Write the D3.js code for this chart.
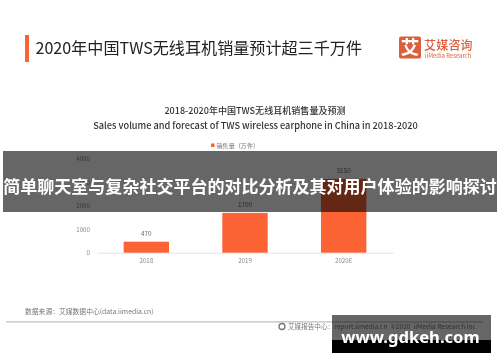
<!DOCTYPE html>
<html><head><meta charset="utf-8">
<script src="https://cdn.jsdelivr.net/npm/d3@7/dist/d3.min.js"></script>
<style>html,body{margin:0;padding:0;background:#fff;overflow:hidden}svg{display:block}</style>
</head><body><svg id="c" width="500" height="362"></svg>
<script>
const categories = ["2018","2019","2020E"];
const sales = [470,1700,3150];
const yTicks = [0,1000,2000,3000,4000];
const headline = "2020年中国TWS无线耳机销量预计超三千万件";
const titleCn = "2018-2020年中国TWS无线耳机销售量及预测";
const titleEn = "Sales volume and forecast of TWS wireless earphone in China in 2018-2020";
const legendLabel = "销售量（万件）";
const sourceText = "数据来源：艾媒数据中心(data.iimedia.cn)";
const footerText = "艾媒报告中心：report.iimedia.cn  ©2020  iiMedia Research Inc";
const overlayText = "简单聊天室与复杂社交平台的对比分析及其对用户体验的影响探讨";
const siteText = "www.gdkeh.com";
const cjk = "'Noto Sans CJK SC','Noto Sans',sans-serif";
const orange = "#fb6435";

const svg = d3.select("#c");
const defs = svg.append("defs");
defs.append("filter").attr("id","b").append("feGaussianBlur").attr("stdDeviation",0.5);
defs.append("filter").attr("id","b2").append("feGaussianBlur").attr("stdDeviation",0.3);
const base = svg.append("g").attr("filter","url(#b)").attr("font-family",cjk);

const x = d3.scaleBand().domain(categories).range([97,393]).paddingInner(0.54).paddingOuter(0.27);
const y = d3.scaleLinear().domain([0,4000]).range([252.7,159]);

// header
base.append("rect").attr("x",25).attr("y",35).attr("width",4).attr("height",27).attr("fill",orange);
base.append("text").attr("x",35.5).attr("y",54).attr("font-size",16.1).attr("fill","#222").text(headline);
// logo
base.append("rect").attr("x",399).attr("y",36.5).attr("width",22).attr("height",22).attr("rx",2).attr("fill","#d9603b");
base.append("text").attr("x",410).attr("y",54).attr("text-anchor","middle").attr("font-size",18.5).attr("font-weight",700).attr("fill","#fff").text("艾");
base.append("text").attr("x",424).attr("y",50).attr("font-size",12).attr("font-weight",500).attr("letter-spacing",0.2).attr("fill","#d9603b").text("艾媒咨询");
base.append("text").attr("x",425).attr("y",58).attr("font-size",5.9).attr("fill","#d9603b").text("iiMedia Research");
// titles
base.append("text").attr("x",255).attr("y",113.5).attr("text-anchor","middle").attr("font-size",9.05).attr("font-weight",500).attr("fill","#333").text(titleCn);
base.append("text").attr("x",255.5).attr("y",129).attr("text-anchor","middle").attr("font-size",9.2).attr("font-weight",500).attr("fill","#333").text(titleEn);
// legend
base.append("rect").attr("x",211).attr("y",143.5).attr("width",3.5).attr("height",3.5).attr("fill",orange);
base.append("text").attr("x",216.5).attr("y",148).attr("font-size",6.1).attr("fill","#777").text(legendLabel);

// axes
const yAxis = d3.axisLeft(y).tickValues(yTicks).tickFormat(d3.format("d")).tickSize(0).tickPadding(7);
const gy = base.append("g").attr("transform","translate(97,0)").call(yAxis);
gy.select(".domain").remove();
gy.selectAll("text").attr("font-size",6.2).attr("font-family",cjk).attr("fill","#888");
const xAxis = d3.axisBottom(x).tickSize(0).tickPadding(6);
const gx = base.append("g").attr("transform","translate(0,252.7)").call(xAxis);
gx.select(".domain").attr("stroke","#ddd").attr("stroke-width",0.8);
gx.selectAll("text").attr("font-size",6.2).attr("font-family",cjk).attr("fill","#888");

// bars
base.selectAll("rect.bar").data(sales).join("rect").attr("class","bar")
  .attr("x",(d,i)=>x(categories[i])).attr("width",x.bandwidth())
  .attr("y",d=>y(d)).attr("height",d=>y(0)-y(d)).attr("fill",orange);
base.selectAll("text.val").data(sales).join("text").attr("class","val")
  .attr("x",(d,i)=>x(categories[i])+x.bandwidth()/2).attr("y",d=>y(d)-5.5)
  .attr("text-anchor","middle").attr("font-size",6.4).attr("fill","#666").text(d=>d);

// footer
base.append("text").attr("x",25).attr("y",314.3).attr("font-size",6.8).attr("fill","#777").text(sourceText);
base.append("rect").attr("x",6).attr("y",321.3).attr("width",477).attr("height",1.2).attr("fill","#bbb");
base.append("circle").attr("cx",282).attr("cy",326.5).attr("r",3).attr("fill","none").attr("stroke","#777").attr("stroke-width",1.3);
base.append("text").attr("x",288).attr("y",328.8).attr("font-size",6.6).attr("fill","#777").style("white-space","pre").text(footerText);

// overlay band
svg.append("rect").attr("x",3).attr("y",151).attr("width",494).attr("height",61).attr("fill","#000").attr("fill-opacity",0.6);
svg.append("text").attr("x",250).attr("y",193).attr("text-anchor","middle").attr("font-family",cjk).attr("font-size",17.03).attr("font-weight",700).attr("fill","#fff").attr("filter","url(#b2)").text(overlayText);

// site watermark
svg.append("rect").attr("x",332).attr("y",315).attr("width",159).attr("height",25).attr("fill","#000").attr("fill-opacity",0.6);
svg.append("rect").attr("x",332).attr("y",340).attr("width",159).attr("height",13).attr("fill","#000");
svg.append("text").attr("x",410.5).attr("y",343).attr("text-anchor","middle").attr("font-family","'Noto Sans',sans-serif").attr("font-size",16.6).attr("font-weight",700).attr("fill","#fff").text(siteText);
</script></body></html>
